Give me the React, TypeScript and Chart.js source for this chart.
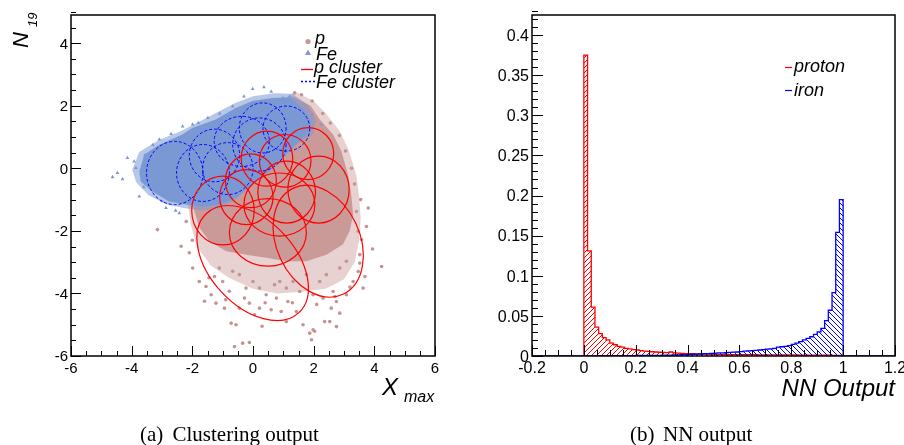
import React, { useEffect, useRef } from "react";
import { Chart, registerables } from "chart.js";

Chart.register(...registerables);

// ---------------- Panel (a): clustering output ----------------
// dense cores / fuzzy halos of the two point clouds (data units: X_max, N_19)
const P_CORE_X = [1.3, 1.9, 2.2, 2.64, 2.91, 3.13, 3.24, 3.3, 3.19, 2.97, 2.42, 1.76, 1.1, 0.44, -0.22, -0.88, -1.43, -1.76, -1.93, -1.98, -1.5, -0.5, 0.5];
const P_CORE_Y = [2.3, 2.0, 1.56, 1.08, 0.56, -0.2, -0.84, -1.48, -2.0, -2.43, -2.76, -2.97, -2.97, -2.86, -2.76, -2.65, -2.34, -1.91, -1.38, -1.06, 0.0, 1.0, 1.8];
const P_HALO_X = [1.4, 2.0, 2.4, 2.85, 3.15, 3.4, 3.5, 3.55, 3.5, 3.35, 3.0, 2.4, 1.6, 0.8, 0.0, -0.8, -1.4, -1.85, -2.05, -2.15, -1.6, -0.5, 0.5];
const P_HALO_Y = [2.45, 2.15, 1.75, 1.2, 0.6, -0.2, -0.9, -1.6, -2.3, -3.0, -3.55, -3.85, -3.95, -4.0, -3.85, -3.5, -3.1, -2.5, -1.8, -1.1, 0.0, 1.0, 1.9];
const FE_CORE_X = [-3.75, -3.58, -3.08, -2.33, -2.0, -1.23, -0.57, -0.02, 0.64, 1.2, 1.64, 1.92, 1.86, 1.42, 0.98, 0.54, -0.02, -0.57, -1.12, -1.67, -2.22, -2.77, -3.32, -3.7];
const FE_CORE_Y = [-0.1, 0.44, 0.76, 1.08, 1.29, 1.56, 1.93, 2.15, 2.25, 2.27, 1.93, 1.51, 1.19, 0.76, 0.33, -0.1, -0.52, -0.95, -1.16, -1.22, -1.16, -1.06, -0.74, -0.42];
const FE_HALO_X = [-0.02, -0.57, -1.12, -1.67, -2.25, -2.85, -3.45, -3.85, -3.98, -3.75, -3.12, -2.35, -1.35, -0.6, 0.0, 0.7, 1.3, 1.8, 2.08, 1.98, 1.42, 0.98, 0.54];
const FE_HALO_Y = [-0.52, -1.0, -1.28, -1.34, -1.28, -1.16, -0.85, -0.45, -0.05, 0.52, 0.9, 1.2, 1.7, 2.08, 2.3, 2.4, 2.38, 2.02, 1.55, 1.1, 0.76, 0.33, -0.1];

// sparse individual events outside the dense cores
const P_PTS_X = [-0.72, -0.56, -0.45, -0.28, -0.12, 0.05, 0.215, 0.435, 0.6, 0.77, 0.93, 1.15, 1.43, 1.65, 1.98, 2.36, 2.58, 2.75, 2.86, 3.08, 3.3, 3.47, 3.52, 3.47, 3.41, -1.99, -1.77, -1.55, -1.38, -1.27, -1.0, -0.78, -1.11, -3.15, -2.37, -1.22, -0.94, -0.23, 0.0, 0.215, -0.45, -0.67, 0.88, 1.32, 1.76, 2.2, 2.42, 2.86, 3.08, 2.64, 2.31, 1.98, 1.54, 1.1, 0.71, -0.61, -0.34, -0.12, 1.87, 1.93, 2.03, 2.53, 2.75, 3.63, 3.69, 3.94, 4.24, 3.74, 3.8, 3.58, 3.52, 1.37, 1.1, 0.3, -2.0, -2.2, 2.3, 2.55, 2.85, 3.05, 3.25, 3.35, 3.55, 1.6, 1.95, -1.6, -0.9, 0.4, 1.3, 2.1, 2.7, 3.2, -2.1, -1.45];
const P_PTS_Y = [-4.95, -5.0, -4.47, -4.15, -4.31, -4.68, -4.47, -4.04, -4.52, -4.15, -4.58, -4.26, -4.58, -5.0, -5.16, -4.9, -4.47, -4.26, -4.63, -4.04, -3.62, -3.3, -2.76, -2.01, -1.38, -3.19, -3.62, -3.78, -4.04, -3.46, -3.62, -3.93, -3.19, -1.96, -2.49, -4.31, -4.47, -3.83, -3.62, -3.83, -3.4, -3.29, -3.62, -3.62, -3.4, -3.62, -3.4, -3.19, -2.97, -3.94, -4.15, -4.04, -3.94, -3.83, -3.72, -5.7, -5.59, -5.57, -5.27, -5.48, -5.21, -4.9, -5.06, -3.83, -3.46, -2.58, -3.14, -1.86, -1.27, -2.28, -3.03, 2.41, -4.9, -5.05, -2.3, -1.7, 1.75, 1.45, 1.05, 0.55, 0.0, -0.5, -1.0, 2.35, 2.15, -4.25, -4.2, -4.3, -4.3, -4.35, -4.1, -3.8, -2.7, -3.5];
const FE_PTS_X = [-4.63, -4.47, -4.14, -3.92, -3.86, -3.75, -3.56, -3.09, -2.32, -1.99, -1.49, -1.1, -0.67, -0.01, 0.36, 0.99, 1.21, 1.95, 2.25, -2.87, -2.43, -2.55, -3.0, -3.6, 0.6, -0.3, -1.8, -2.7, -3.3, -4.3];
const FE_PTS_Y = [-0.28, -0.15, 0.33, 0.22, 0.01, -0.9, 0.42, 0.92, 1.34, 1.4, 1.61, 1.75, 1.98, 2.54, 2.59, 2.25, 2.3, 1.72, 1.4, -1.27, -1.43, -1.35, -1.05, -0.6, 2.45, 2.3, 1.45, 1.1, 0.75, -0.35];

// cluster ellipses: centre, semi-axes (data units) and tilt (deg, clockwise on screen)
const P_CL_X = [1.82, 0.46, 1.06, 2.16, -0.07, 1.11, -0.22, 0.87, -0.99, 0.49, -0.01, 2.15];
const P_CL_Y = [0.47, 0.31, 0.24, -0.68, -0.4, -0.76, -0.92, -1.16, -1.35, -2.05, -3.03, -2.33];
const P_CL_RX = [0.84, 0.85, 0.85, 1.01, 0.84, 0.95, 0.88, 1.17, 1.03, 1.27, 2.2, 1.9];
const P_CL_RY = [0.83, 0.88, 0.84, 1.07, 0.86, 0.99, 0.88, 1.01, 1.1, 1.08, 1.38, 1.35];
const P_CL_ANG = [0, 0, 0, 0, 0, 0, 0, 0, 0, 0, 47, 65];
const FE_CL_X = [-2.58, -1.65, -1.27, -0.83, -0.37, 0.21, 0.32, 1.1];
const FE_CL_Y = [-0.15, -0.15, 0.41, -0.01, 0.86, 0.76, 1.29, 1.27];
const FE_CL_RX = [0.93, 0.87, 0.83, 0.83, 0.91, 0.88, 0.77, 0.77];
const FE_CL_RY = [1.01, 0.91, 0.84, 0.83, 0.8, 0.85, 0.8, 0.72];

const A_X_TICKS = [-6, -4, -2, 0, 2, 4, 6];
const A_X_LABELS = ["-6", "-4", "-2", "0", "2", "4", "6"];
const A_Y_TICKS = [-6, -4, -2, 0, 2, 4];
const A_Y_LABELS = ["-6", "-4", "-2", "0", "2", "4"];
const A_LEGEND = ["p", "Fe", "p cluster", "Fe cluster"];

// ---------------- Panel (b): NN output ----------------
const NN_LO = 0;
const NN_HI = 1;
const PROTON = [
  0.375, 0.131, 0.061, 0.036, 0.028, 0.023, 0.02, 0.016, 0.014, 0.012,
  0.011, 0.0095, 0.009, 0.008, 0.0075, 0.0068, 0.006, 0.0058, 0.0053, 0.005,
  0.0047, 0.0045, 0.0043, 0.005, 0.004, 0.0035, 0.0033, 0.003, 0.003, 0.0028,
  0.0026, 0.0025, 0.0024, 0.0023, 0.0022, 0.0021, 0.002, 0.002, 0.0019, 0.0018,
  0.0018, 0.0017, 0.0017, 0.0017, 0.0016, 0.0016, 0.0016, 0.0015, 0.0015, 0.0015,
  0.0015, 0.0014, 0.0014, 0.0014, 0.0013, 0.0013, 0.0013, 0.0013, 0.0012, 0.0012,
  0.0012, 0.0011, 0.0011, 0.0011, 0.001, 0.001, 0.001, 0.0009, 0.0009, 0.0009,
];
const IRON = [
  0.0002, 0.0002, 0.0002, 0.0002, 0.0003, 0.0003, 0.0003, 0.0003, 0.0004, 0.0004,
  0.0004, 0.0005, 0.0005, 0.0005, 0.0006, 0.0006, 0.0007, 0.0007, 0.0008, 0.0008,
  0.0009, 0.001, 0.001, 0.0012, 0.0013, 0.0015, 0.0016, 0.0018, 0.002, 0.0022,
  0.0024, 0.0025, 0.0028, 0.003, 0.0032, 0.0035, 0.0038, 0.004, 0.0042, 0.0045,
  0.0048, 0.005, 0.0055, 0.006, 0.0065, 0.0068, 0.007, 0.0075, 0.008, 0.0085,
  0.009, 0.0095, 0.011, 0.0115, 0.012, 0.013, 0.0146, 0.016, 0.018, 0.02,
  0.022, 0.024, 0.027, 0.03, 0.0345, 0.044, 0.057, 0.079, 0.154, 0.195,
];
const B_X_TICKS = [-0.2, 0, 0.2, 0.4, 0.6, 0.8, 1, 1.2];
const B_X_LABELS = ["-0.2", "0", "0.2", "0.4", "0.6", "0.8", "1", "1.2"];
const B_Y_TICKS = [0, 0.05, 0.1, 0.15, 0.2, 0.25, 0.3, 0.35, 0.4];
const B_Y_LABELS = ["0", "0.05", "0.1", "0.15", "0.2", "0.25", "0.3", "0.35", "0.4"];
const B_LEGEND = ["proton", "iron"];

const SANS = '"Liberation Sans", Arial, Helvetica, sans-serif';
const SERIF = '"Liberation Serif", "Times New Roman", serif';

const pts = (xs: number[], ys: number[]) => xs.map((x, i) => ({ x, y: ys[i] }));
const closed = (xs: number[], ys: number[]) => {
  const p = pts(xs, ys);
  p.push({ ...p[0] });
  return p;
};
const steps = (vals: number[], lo: number, hi: number) => {
  const w = (hi - lo) / vals.length;
  const p: { x: number; y: number }[] = [{ x: lo, y: 0 }];
  vals.forEach((v, i) => p.push({ x: lo + i * w, y: v }));
  p.push({ x: hi, y: vals[vals.length - 1] });
  p.push({ x: hi, y: 0 });
  return p;
};

type AxisSpec = {
  xMajor: number[];
  xLabels: string[];
  xMinor: number;
  yMajor: number[];
  yLabels: string[];
  yMinor: number;
  majorLen: number;
  minorLen: number;
  fontSize: number;
  xLabelBase: number;
};

function drawAxes(chart: any, s: AxisSpec) {
  const ctx: CanvasRenderingContext2D = chart.ctx;
  const a = chart.chartArea;
  const x = chart.scales.x;
  const y = chart.scales.y;
  ctx.save();
  ctx.strokeStyle = "#000";
  ctx.lineWidth = 1;
  ctx.beginPath();
  const nx = Math.round((x.max - x.min) / s.xMinor);
  for (let i = 0; i <= nx; i++) {
    const v = x.min + i * s.xMinor;
    const major = s.xMajor.some((m) => Math.abs(m - v) < 1e-6);
    const px = Math.round(x.getPixelForValue(v)) + 0.5;
    ctx.moveTo(px, a.bottom);
    ctx.lineTo(px, a.bottom - (major ? s.majorLen : s.minorLen));
  }
  const ny = Math.round((y.max - y.min) / s.yMinor);
  for (let i = 0; i <= ny; i++) {
    const v = y.min + i * s.yMinor;
    const major = s.yMajor.some((m) => Math.abs(m - v) < 1e-6);
    const py = Math.round(y.getPixelForValue(v)) + 0.5;
    ctx.moveTo(a.left, py);
    ctx.lineTo(a.left + (major ? s.majorLen : s.minorLen), py);
  }
  ctx.stroke();
  ctx.lineWidth = 1.5;
  ctx.strokeRect(a.left, a.top, a.right - a.left, a.bottom - a.top);
  ctx.fillStyle = "#000";
  ctx.font = `${s.fontSize}px ${SANS}`;
  ctx.textBaseline = "alphabetic";
  ctx.textAlign = "center";
  s.xMajor.forEach((v, i) => ctx.fillText(s.xLabels[i], x.getPixelForValue(v), s.xLabelBase));
  ctx.textAlign = "right";
  const half = s.fontSize * 0.36;
  s.yMajor.forEach((v, i) => ctx.fillText(s.yLabels[i], a.left - 3, y.getPixelForValue(v) + half));
  ctx.restore();
}

function hatch(color: string, rising: boolean): CanvasPattern | string {
  const n = 5;
  const c = document.createElement("canvas");
  c.width = n;
  c.height = n;
  const g = c.getContext("2d");
  if (!g) return color;
  g.strokeStyle = color;
  g.lineWidth = 1;
  g.beginPath();
  if (rising) {
    g.moveTo(-1, n + 1);
    g.lineTo(n + 1, -1);
    g.moveTo(-1, 1);
    g.lineTo(1, -1);
    g.moveTo(n - 1, n + 1);
    g.lineTo(n + 1, n - 1);
  } else {
    g.moveTo(-1, -1);
    g.lineTo(n + 1, n + 1);
    g.moveTo(-1, n - 1);
    g.lineTo(1, n + 1);
    g.moveTo(n - 1, -1);
    g.lineTo(n + 1, 1);
  }
  g.stroke();
  return g.createPattern(c, "repeat") || color;
}

const W = 452;
const H = 445;

function ClusterPanel() {
  const ref = useRef<HTMLCanvasElement | null>(null);
  useEffect(() => {
    if (!ref.current) return;
    const ellipses = {
      id: "ellipses",
      afterDatasetsDraw(chart: any) {
        const ctx: CanvasRenderingContext2D = chart.ctx;
        const x = chart.scales.x;
        const y = chart.scales.y;
        const sx = Math.abs(x.getPixelForValue(1) - x.getPixelForValue(0));
        const sy = Math.abs(y.getPixelForValue(1) - y.getPixelForValue(0));
        ctx.save();
        ctx.strokeStyle = "#0000ff";
        ctx.lineWidth = 1;
        ctx.setLineDash([3, 2]);
        FE_CL_X.forEach((cx, i) => {
          ctx.beginPath();
          ctx.ellipse(x.getPixelForValue(cx), y.getPixelForValue(FE_CL_Y[i]), FE_CL_RX[i] * sx, FE_CL_RY[i] * sy, 0, 0, Math.PI * 2);
          ctx.stroke();
        });
        ctx.setLineDash([]);
        ctx.strokeStyle = "#ff0000";
        ctx.lineWidth = 1.2;
        P_CL_X.forEach((cx, i) => {
          ctx.beginPath();
          const s = (sx + sy) / 2;
          const tilted = P_CL_ANG[i] !== 0;
          ctx.ellipse(
            x.getPixelForValue(cx),
            y.getPixelForValue(P_CL_Y[i]),
            P_CL_RX[i] * (tilted ? s : sx),
            P_CL_RY[i] * (tilted ? s : sy),
            (P_CL_ANG[i] * Math.PI) / 180,
            0,
            Math.PI * 2
          );
          ctx.stroke();
        });
        ctx.restore();
      },
    };
    const decor = {
      id: "decorA",
      afterDraw(chart: any) {
        drawAxes(chart, {
          xMajor: A_X_TICKS,
          xLabels: A_X_LABELS,
          xMinor: 0.5,
          yMajor: A_Y_TICKS,
          yLabels: A_Y_LABELS,
          yMinor: 0.5,
          majorLen: 10,
          minorLen: 5,
          fontSize: 15,
          xLabelBase: 373,
        });
        const ctx: CanvasRenderingContext2D = chart.ctx;
        ctx.save();
        ctx.fillStyle = "#000";
        ctx.textAlign = "left";
        ctx.textBaseline = "alphabetic";
        // y title N_19
        ctx.save();
        ctx.translate(28, 48);
        ctx.rotate(-Math.PI / 2);
        ctx.font = `italic 22px ${SANS}`;
        ctx.fillText("N", 0, 0);
        ctx.font = `italic 13px ${SANS}`;
        ctx.fillText("19", 21, 9);
        ctx.restore();
        // x title X_max
        ctx.font = `italic 24px ${SANS}`;
        ctx.fillText("X", 382, 395);
        ctx.font = `italic 16px ${SANS}`;
        ctx.fillText("max", 404, 402);
        // legend
        ctx.fillStyle = "#c49a99";
        ctx.beginPath();
        ctx.arc(308, 41.5, 2.6, 0, Math.PI * 2);
        ctx.fill();
        ctx.fillStyle = "#8c94d8";
        ctx.beginPath();
        ctx.moveTo(308, 49.5);
        ctx.lineTo(311, 55);
        ctx.lineTo(305, 55);
        ctx.closePath();
        ctx.fill();
        ctx.strokeStyle = "#ff0000";
        ctx.lineWidth = 1.3;
        ctx.beginPath();
        ctx.moveTo(301, 69.5);
        ctx.lineTo(313, 69.5);
        ctx.stroke();
        ctx.strokeStyle = "#0000ff";
        ctx.setLineDash([2, 2]);
        ctx.beginPath();
        ctx.moveTo(301, 81.5);
        ctx.lineTo(315, 81.5);
        ctx.stroke();
        ctx.setLineDash([]);
        ctx.fillStyle = "#000";
        ctx.font = `italic 18px ${SANS}`;
        ctx.fillText(A_LEGEND[0], 315, 44);
        ctx.fillText(A_LEGEND[1], 316, 60);
        ctx.fillText(A_LEGEND[2], 314, 73);
        ctx.fillText(A_LEGEND[3], 316, 88);
        // caption
        ctx.font = `21px ${SERIF}`;
        ctx.fillText("(a)", 140, 441);
        ctx.fillText("Clustering output", 172.5, 441);
        ctx.restore();
      },
    };
    const chart = new Chart(ref.current, {
      type: "scatter",
      data: {
        datasets: [
          { type: "line", data: closed(P_HALO_X, P_HALO_Y), fill: "shape", backgroundColor: "rgba(201,154,152,0.45)", borderColor: "transparent", borderWidth: 0, pointRadius: 0, order: 12 } as any,
          { type: "line", data: closed(P_CORE_X, P_CORE_Y), fill: "shape", backgroundColor: "rgb(201,154,152)", borderColor: "transparent", borderWidth: 0, pointRadius: 0, order: 11 } as any,
          { type: "scatter", data: pts(P_PTS_X, P_PTS_Y), pointStyle: "circle", pointRadius: 1.8, backgroundColor: "rgb(196,148,146)", borderWidth: 0, order: 10 } as any,
          { type: "line", data: closed(FE_HALO_X, FE_HALO_Y), fill: "shape", backgroundColor: "rgba(122,153,212,0.55)", borderColor: "transparent", borderWidth: 0, pointRadius: 0, order: 9 } as any,
          { type: "line", data: closed(FE_CORE_X, FE_CORE_Y), fill: "shape", backgroundColor: "rgb(122,153,212)", borderColor: "transparent", borderWidth: 0, pointRadius: 0, order: 8 } as any,
          { type: "scatter", data: pts(FE_PTS_X, FE_PTS_Y), pointStyle: "triangle", pointRadius: 2.2, backgroundColor: "rgb(126,152,214)", borderWidth: 0, order: 7 } as any,
        ],
      },
      options: {
        responsive: false,
        animation: false,
        events: [],
        layout: { padding: { left: 71, right: 17, top: 15, bottom: H - 356 } },
        plugins: { legend: { display: false }, tooltip: { enabled: false } },
        scales: {
          x: { type: "linear", min: -6, max: 6, display: false },
          y: { type: "linear", min: -6, max: 4.9, display: false },
        },
      },
      plugins: [ellipses, decor],
    } as any);
    return () => chart.destroy();
  }, []);
  return <canvas ref={ref} width={W} height={H} style={{ position: "absolute", left: 0, top: 0, width: W, height: H }} />;
}

function NNPanel() {
  const ref = useRef<HTMLCanvasElement | null>(null);
  useEffect(() => {
    if (!ref.current) return;
    const decor = {
      id: "decorB",
      afterDraw(chart: any) {
        drawAxes(chart, {
          xMajor: B_X_TICKS,
          xLabels: B_X_LABELS,
          xMinor: 0.05,
          yMajor: B_Y_TICKS,
          yLabels: B_Y_LABELS,
          yMinor: 0.01,
          majorLen: 11,
          minorLen: 6,
          fontSize: 16,
          xLabelBase: 373,
        });
        const ctx: CanvasRenderingContext2D = chart.ctx;
        ctx.save();
        ctx.fillStyle = "#000";
        ctx.textBaseline = "alphabetic";
        ctx.textAlign = "right";
        ctx.font = `italic 24px ${SANS}`;
        ctx.fillText("NN Output", 443, 396);
        ctx.textAlign = "left";
        ctx.lineWidth = 1.2;
        ctx.strokeStyle = "#ff0000";
        ctx.beginPath();
        ctx.moveTo(333, 67.5);
        ctx.lineTo(340, 67.5);
        ctx.stroke();
        ctx.strokeStyle = "#0000ff";
        ctx.beginPath();
        ctx.moveTo(333, 90.5);
        ctx.lineTo(340, 90.5);
        ctx.stroke();
        ctx.font = `italic 18px ${SANS}`;
        ctx.fillText(B_LEGEND[0], 342, 72);
        ctx.fillText(B_LEGEND[1], 342, 96);
        ctx.font = `21px ${SERIF}`;
        ctx.fillText("(b)", 630 - W, 441);
        ctx.fillText("NN output", 663 - W, 441);
        ctx.restore();
      },
    };
    const ironPts = steps(IRON, NN_LO, NN_HI);
    ironPts.unshift({ x: -0.2, y: 0 });
    ironPts.push({ x: 1.2, y: 0 });
    const chart = new Chart(ref.current, {
      type: "line",
      data: {
        datasets: [
          { data: steps(PROTON, NN_LO, NN_HI), stepped: "before", borderColor: "#ff0000", borderWidth: 1.3, backgroundColor: hatch("#ff0000", true), fill: "origin", pointRadius: 0, order: 2 },
          { data: ironPts, stepped: "before", borderColor: "#0000ff", borderWidth: 1.3, backgroundColor: hatch("#0000ff", false), fill: "origin", pointRadius: 0, order: 1 },
        ],
      },
      options: {
        responsive: false,
        animation: false,
        events: [],
        layout: { padding: { left: 80, right: 9, top: 15, bottom: H - 356 } },
        plugins: { legend: { display: false }, tooltip: { enabled: false } },
        scales: {
          x: { type: "linear", min: -0.2, max: 1.2, display: false },
          y: { type: "linear", min: 0, max: 0.425, display: false },
        },
      },
      plugins: [decor],
    } as any);
    return () => chart.destroy();
  }, []);
  return <canvas ref={ref} width={W} height={H} style={{ position: "absolute", left: W, top: 0, width: W, height: H }} />;
}

export default function App() {
  return (
    <div style={{ position: "absolute", left: 0, top: 0, width: 904, height: 445, background: "#fff", overflow: "hidden" }}>
      <ClusterPanel />
      <NNPanel />
    </div>
  );
}
